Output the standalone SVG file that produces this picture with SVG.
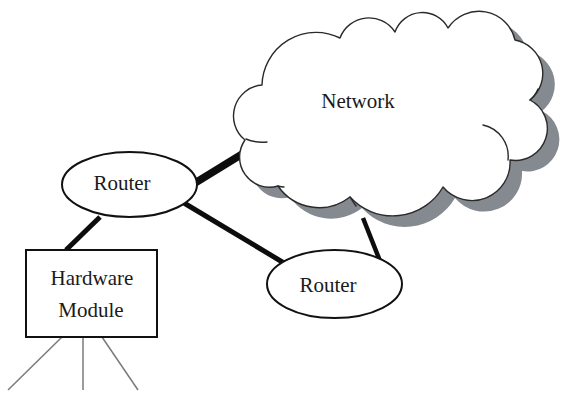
<svg xmlns="http://www.w3.org/2000/svg" width="565" height="398" viewBox="0 0 565 398">
  <defs>
    <style>
      .label { font-family: "Liberation Serif", "Times New Roman", serif; font-size: 21px; fill: #1a1a1a; text-anchor: middle; }
      .shape { fill: #ffffff; stroke: #111111; stroke-width: 2; }
      .cloud { fill: #ffffff; stroke: #2a2a2a; stroke-width: 1.4; stroke-linejoin: round; }
      .cloud-shadow { fill: #858a90; stroke: none; }
      .cloud-inner { fill: none; stroke: #2a2a2a; stroke-width: 1.4; stroke-linecap: round; }
      .link { stroke: #0d0d0d; stroke-linecap: butt; fill: none; }
      .leg { stroke: #7a7a7a; stroke-width: 1.5; fill: none; }
    </style>
    <path id="cloud-outline" d="M262,85
      A54,54 0 0 1 340,38
      A31,31 0 0 1 395,32
      A29,29 0 0 1 448,28
      A37,37 0 0 1 515,40
      A34,34 0 0 1 530,100
      A32,32 0 0 1 510,160
      A38,38 0 0 1 443,187
      A58,58 0 0 1 350,197
      A50,50 0 0 1 278,186
      A30,30 0 0 1 245,140
      A31,31 0 0 1 262,85 Z"/>
  </defs>

  <rect width="565" height="398" fill="#ffffff"/>

  <!-- connectors -->
  <g id="connectors">
    <line class="link" x1="100" y1="217" x2="66" y2="250" stroke-width="5"/>
    <line class="link" x1="195" y1="183" x2="252" y2="148" stroke-width="7.5"/>
    <line class="link" x1="179" y1="200" x2="289" y2="266" stroke-width="5"/>
    <line class="link" x1="363" y1="218" x2="382" y2="266" stroke-width="4.5"/>
    <line class="leg" x1="62" y1="337" x2="8" y2="390"/>
    <line class="leg" x1="83" y1="337" x2="83" y2="390"/>
    <line class="leg" x1="102" y1="337" x2="138" y2="390"/>
  </g>

  <!-- cloud with drop shadow and inner lobe arcs -->
  <g id="network">
    <use href="#cloud-outline" class="cloud-shadow" transform="translate(12,11)"/>
    <use href="#cloud-outline" class="cloud"/>
    <path class="cloud-inner" d="M483,125 A32,32 0 0 1 508,160
      M530,100 Q535,96 538,89
      M246,139 Q255,143 267,142
      M278,186 Q281,187 284,187
      M350,197 Q353,202 356,206"/>
    <text class="label" x="358" y="108">Network</text>
  </g>

  <g id="router-1">
    <ellipse class="shape" cx="129.5" cy="184.5" rx="67.5" ry="32.5"/>
    <text class="label" x="122" y="190">Router</text>
  </g>

  <g id="router-2">
    <ellipse class="shape" cx="334.5" cy="284" rx="67.5" ry="34"/>
    <text class="label" x="328" y="292">Router</text>
  </g>

  <g id="hardware-module">
    <rect class="shape" x="26" y="250" width="131" height="87"/>
    <text class="label" x="92" y="285">Hardware</text>
    <text class="label" x="91" y="317">Module</text>
  </g>
</svg>
